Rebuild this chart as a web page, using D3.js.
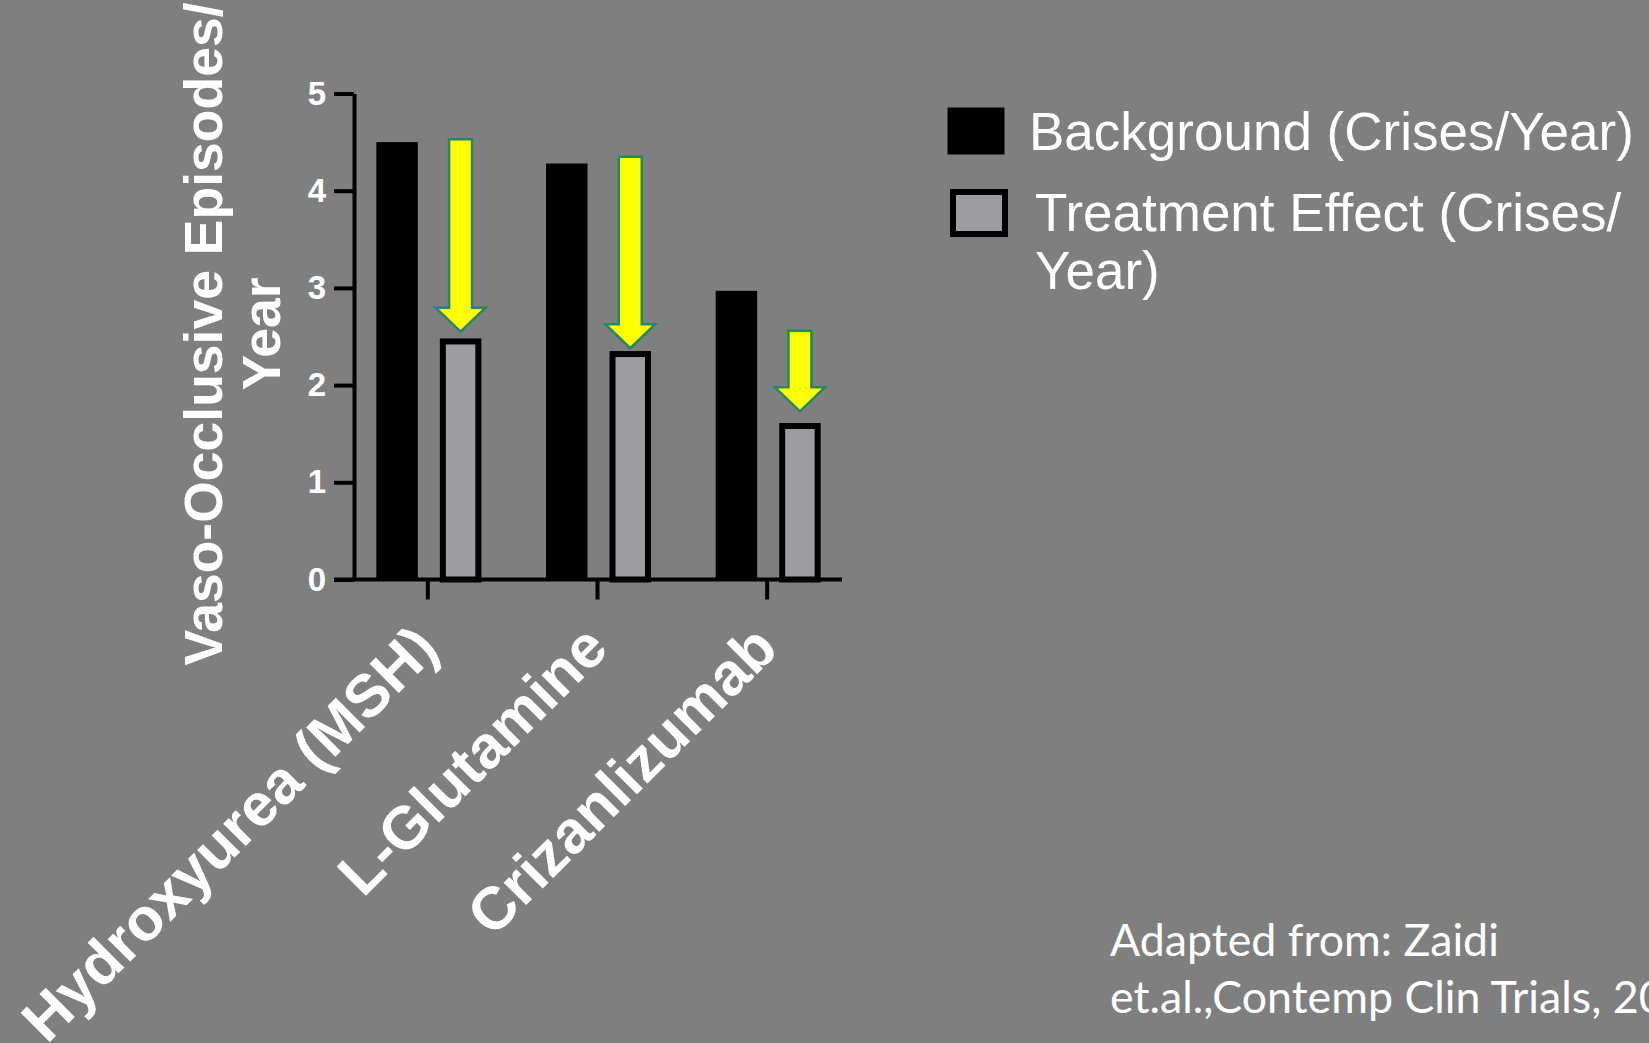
<!DOCTYPE html>
<html>
<head>
<meta charset="utf-8">
<script src="https://cdn.jsdelivr.net/npm/d3@7.9.0/dist/d3.min.js"></script>
<style>
  html, body { margin: 0; padding: 0; background: #7f7f7f; overflow: hidden; }
  svg { display: block; }
  text { fill: #fff; }
</style>
</head>
<body>
<svg id="chart"></svg>
<script>
// data
const categories = ['Hydroxyurea (MSH)', 'L-Glutamine', 'Crizanlizumab'];
const background = [4.5, 4.28, 2.97];
const treatment = [2.48, 2.35, 1.61];
// yellow arrows: start and end value of each arrow
const arrowFrom = [4.53, 4.35, 2.56];
const arrowTo = [2.55, 2.38, 1.73];
const yTicks = [0, 1, 2, 3, 4, 5];
const seriesKeys = ['background', 'treatment'];
const legendLines = [['Background (Crises/Year)'], ['Treatment Effect (Crises/', 'Year)']];
const yTitleLines = ['Vaso-Occlusive Episodes/', 'Year'];
const sourceLines = ['Adapted from: Zaidi', 'et.al.,Contemp Clin Trials, 20'];

const width = 1649;
const height = 1043;
const arial = '"Liberation Sans", Arial, sans-serif';

const svg = d3.select('#chart').attr('width', width).attr('height', height);
svg.append('rect').attr('width', width).attr('height', height).attr('fill', '#7f7f7f');

// scales
const x = d3.scaleBand().domain(categories).range([343, 852]);
const xInner = d3.scaleBand().domain(seriesKeys).range([-51.5, 53.5]).paddingInner(0.3465);
const y = d3.scaleLinear().domain([0, 5]).range([579.5, 93.5]);

const rows = categories.map((c, i) => ({
  cat: c,
  background: background[i],
  treatment: treatment[i],
  from: arrowFrom[i],
  to: arrowTo[i]
}));

const center = (c) => x(c) + x.bandwidth() / 2;

// black background bars
svg.append('g')
  .selectAll('rect')
  .data(rows)
  .join('rect')
  .attr('x', (d) => center(d.cat) + xInner('background'))
  .attr('y', (d) => y(d.background))
  .attr('width', xInner.bandwidth())
  .attr('height', (d) => y(0) - y(d.background))
  .attr('fill', '#000');

// grey treatment bars with thick black outline
const sw = 6;
svg.append('g')
  .selectAll('rect')
  .data(rows)
  .join('rect')
  .attr('x', (d) => center(d.cat) + xInner('treatment') + sw / 2)
  .attr('y', (d) => y(d.treatment) + sw / 2)
  .attr('width', xInner.bandwidth() - sw)
  .attr('height', (d) => y(0) - y(d.treatment) - sw / 2)
  .attr('fill', '#9d9ca1')
  .attr('stroke', '#000')
  .attr('stroke-width', sw);

// arrows above the grey bars
const shaft = 11.5;
const head = 25;
const headLen = 24;
svg.append('g')
  .selectAll('path')
  .data(rows)
  .join('path')
  .attr('d', (d) => {
    const cx = center(d.cat) + xInner('treatment') + xInner.bandwidth() / 2;
    const y0 = y(d.from);
    const y1 = y(d.to);
    const p = d3.path();
    p.moveTo(cx - shaft, y0);
    p.lineTo(cx + shaft, y0);
    p.lineTo(cx + shaft, y1 - headLen);
    p.lineTo(cx + head, y1 - headLen);
    p.lineTo(cx, y1);
    p.lineTo(cx - head, y1 - headLen);
    p.lineTo(cx - shaft, y1 - headLen);
    p.closePath();
    return p.toString();
  })
  .attr('fill', '#ffff00')
  .attr('stroke', '#23876a')
  .attr('stroke-width', 2.5)
  .attr('stroke-linejoin', 'miter');

// y axis
const yAxis = svg.append('g')
  .attr('transform', `translate(354,0)`)
  .call(d3.axisLeft(y).tickValues(yTicks).tickFormat(d3.format('d'))
    .tickSize(20).tickSizeOuter(0).tickPadding(8));
yAxis.select('.domain').attr('stroke', '#000').attr('stroke-width', 4);
yAxis.selectAll('.tick line').attr('stroke', '#000').attr('stroke-width', 4);
yAxis.selectAll('.tick text')
  .attr('fill', '#fff')
  .attr('font-family', arial)
  .attr('font-weight', 'bold')
  .attr('font-size', 33);

// x axis
const xAxis = svg.append('g')
  .attr('transform', `translate(0,${y(0)})`)
  .call(d3.axisBottom(x).tickSize(20).tickSizeOuter(0).tickFormat(''));
xAxis.select('.domain').remove();
xAxis.selectAll('.tick line').attr('stroke', '#000').attr('stroke-width', 4);
xAxis.append('line')
  .attr('x1', 334).attr('x2', 842)
  .attr('stroke', '#000').attr('stroke-width', 4);

// rotated category labels
svg.append('g')
  .selectAll('text')
  .data(categories)
  .join('text')
  .attr('transform', (d) => `translate(${center(d) + 13},651) rotate(-45)`)
  .attr('text-anchor', 'end')
  .attr('font-family', arial)
  .attr('font-weight', 'bold')
  .attr('font-size', 60)
  .text((d) => d);

// y axis title on two lines
svg.append('g')
  .selectAll('text')
  .data(yTitleLines)
  .join('text')
  .attr('transform', (d, i) => `translate(${222 + i * 58},334) rotate(-90)`)
  .attr('text-anchor', 'middle')
  .attr('font-family', arial)
  .attr('font-weight', 'bold')
  .attr('font-size', 53.5)
  .text((d) => d);

// legend
const legend = svg.append('g');
legend.append('rect')
  .attr('x', 947.5).attr('y', 107.5).attr('width', 57).attr('height', 47)
  .attr('fill', '#000');
legend.append('rect')
  .attr('x', 953).attr('y', 192).attr('width', 52).attr('height', 42)
  .attr('fill', '#9d9ca1').attr('stroke', '#000').attr('stroke-width', sw);
legendLines.forEach((lines, i) => {
  lines.forEach((line, j) => {
    legend.append('text')
      .attr('x', i === 0 ? 1029 : 1035)
      .attr('y', i === 0 ? 150 : 231 + j * 58)
      .attr('font-family', arial)
      .attr('font-size', 53)
      .text(line);
  });
});

// source note
svg.append('g')
  .selectAll('text')
  .data(sourceLines)
  .join('text')
  .attr('x', 1110)
  .attr('y', (d, i) => 956 + i * 57)
  .attr('font-family', 'Lato, "Open Sans", sans-serif')
  .attr('font-size', 44.7)
  .text((d) => d);
</script>
</body>
</html>
